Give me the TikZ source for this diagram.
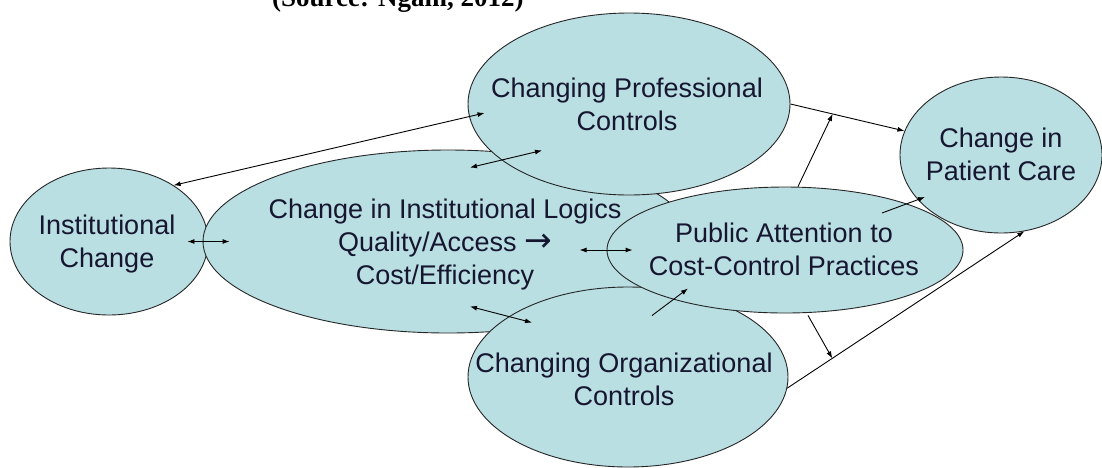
\documentclass[tikz,border=0pt]{standalone}
\usepackage{fontspec}
\setmainfont{Liberation Sans}
\newfontfamily\srcfont{Liberation Serif}
\newfontfamily\symfont{DejaVu Sans}
\usetikzlibrary{shapes.geometric,arrows.meta}
\definecolor{cellfill}{RGB}{185,223,227}
\definecolor{ink}{RGB}{22,22,48}
\tikzset{
    stage/.style={
    ellipse,draw=black!85,fill=cellfill,line width=0.9pt,inner sep=0pt
    },
    txt/.style={
    align=center,text=ink,font=\fontsize{27}{33}\selectfont,inner sep=0pt
    },
    oneway/.style={
    -{Latex[length=7pt,width=5pt]},line width=0.9pt
    },
    twoway/.style={
    {Latex[length=7pt,width=5pt]}-{Latex[length=7pt,width=5pt]},line width=0.9pt
    },
}

\begin{document}
\begin{tikzpicture}[x=1pt,y=-1pt]
   \useasboundingbox (0,0) rectangle (1102,467);
   % caption, cut by the top edge
   \node[anchor=base west,inner sep=0pt,font=\srcfont\bfseries\fontsize{27}{33}\selectfont] (src) at (272,6) {(Source: Ngam, 2012)};

   \node[stage,minimum width=198pt,minimum height=147pt] (inst) at (109,241.5) {};
   \node[txt] (instT) at (107,244.5) {Institutional\\Change};
   \node[stage,minimum width=490pt,minimum height=183pt] (logics) at (448,241.5) {};
   \node[txt] (logicsT) at (445,244.5) {Change in Institutional Logics\\Quality/Access {\symfont\fontsize{33}{33}\selectfont →}\\Cost/Efficiency};
   \node[stage,minimum width=322pt,minimum height=182pt] (prof) at (629,104) {};
   \node[txt] (profT) at (627,104.5) {Changing Professional\\Controls};
   \node[stage,minimum width=320pt,minimum height=180pt] (org) at (628,377) {};
   \node[txt] (orgT) at (624,379) {Changing Organizational\\Controls};
   \node[stage,minimum width=356pt,minimum height=126pt] (pub) at (785,250) {};
   \node[txt] (pubT) at (784,249.7) {Public Attention to\\Cost-Control Practices};
   \node[stage,minimum width=202pt,minimum height=156pt] (pat) at (1001,155) {};
   \node[txt] (patT) at (1001,154.7) {Change in\\Patient Care};

   % points where the moderating arrows meet
   \path (prof.east) -- (pat.166) coordinate[pos=0.37] (profgate);
   \path (org.356) -- (pat.287) coordinate[pos=0.19] (orggate);

  \path[twoway]
    ([xshift=-21pt]inst.east) edge ([xshift=27pt]logics.west)
    (inst.41) edge ([xshift=17pt,yshift=-9pt]prof.west)
    ([xshift=22pt,yshift=-18pt]logics.north) edge ([xshift=-87pt,yshift=45pt]prof.south)
    ([xshift=22pt,yshift=27pt]logics.south) edge ([xshift=-96pt,yshift=-36pt]org.north)
    ([xshift=-27pt]pub.west) edge ([xshift=26pt]pub.west);
  \path[oneway]
    (prof.east) edge (pat.166)
    ([xshift=13pt]pub.north) edge (profgate)
    ([xshift=24pt,yshift=-29pt]org.north) edge ([xshift=-97pt,yshift=25pt]pub.south)
    ([xshift=97pt,yshift=37pt]pub.center) edge ([xshift=-76pt,yshift=-42pt]pat.center)
    (org.356) edge (pat.287)
    ([xshift=23pt,yshift=-2pt]pub.south) edge (orggate);
\end{tikzpicture}
\end{document}
